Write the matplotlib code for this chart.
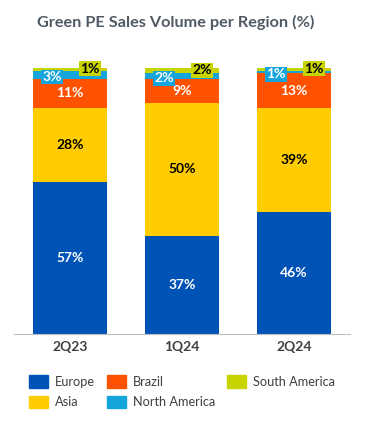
import numpy as np
import matplotlib.pyplot as plt
from matplotlib.patches import Patch

plt.rcParams["font.family"] = ["Lato", "DejaVu Sans"]

quarters = ["2Q23", "1Q24", "2Q24"]
europe = [57, 37, 46]
asia = [28, 50, 39]
brazil = [11, 9, 13]
north_america = [3, 2, 1]
south_america = [1, 2, 1]

colors = {
    "Europe": "#0053b6",
    "Asia": "#ffcc00",
    "Brazil": "#ff5200",
    "North America": "#14a5dc",
    "South America": "#c8d400",
}
series = [("Europe", europe), ("Asia", asia), ("Brazil", brazil),
          ("North America", north_america), ("South America", south_america)]

fig = plt.figure(figsize=(3.8, 4.32), dpi=100)
ax = fig.add_axes([14 / 380, 98 / 432, 336 / 380, 266 / 432])

x = np.arange(len(quarters))
width = 0.66
bottom = np.zeros(len(quarters))
for name, vals in series:
    vals = np.array(vals, dtype=float)
    ax.bar(x, vals, width, bottom=bottom, color=colors[name], linewidth=0)
    for i, v in enumerate(vals):
        if name in ("Europe", "Asia", "Brazil"):
            ax.text(x[i], bottom[i] + v / 2, f"{int(v)}%", ha="center", va="center",
                    color="black" if name == "Asia" else "white",
                    fontsize=10, fontweight="bold")
        elif name == "North America":
            ax.text(x[i] - 0.16, bottom[i] + v / 2 - 0.9, f"{int(v)}%", ha="center", va="center",
                    color="white", fontsize=10, fontweight="bold",
                    bbox=dict(boxstyle="square,pad=0.1", fc=colors[name], ec="none"))
        else:
            ax.text(x[i] + 0.18, bottom[i] + v / 2 + 0.2, f"{int(v)}%", ha="center", va="center",
                    color="black", fontsize=10, fontweight="bold",
                    bbox=dict(boxstyle="square,pad=0.1", fc=colors[name], ec="none"))
    bottom += vals

ax.set_xlim(-0.5, 2.5)
ax.set_ylim(0, 100)
ax.set_yticks([])
ax.set_xticks(x)
ax.set_xticklabels(quarters, fontsize=10, fontweight="bold", color="#404040")
ax.tick_params(axis="x", length=0, pad=5)
for s in ["top", "right", "left"]:
    ax.spines[s].set_visible(False)
ax.spines["bottom"].set_color("#bfbfbf")

fig.text(37 / 380, 1 - 22 / 432, "Green PE Sales Volume per Region (%)", fontsize=11.7,
         fontweight="bold", color="#505a64", va="center", ha="left")

order = ["Europe", "Asia", "Brazil", "North America", "South America"]
handles = [Patch(color=colors[n]) for n in order]
fig.legend(handles, order, loc="upper left", bbox_to_anchor=(29 / 380, 1 - 375 / 432),
           ncol=3, frameon=False, fontsize=9.2, handlelength=1.5, handleheight=1.15,
           columnspacing=0.9, handletextpad=0.55, labelspacing=0.62,
           borderpad=0, borderaxespad=0, labelcolor="#404040")

fig.savefig("out.png", dpi=100)
